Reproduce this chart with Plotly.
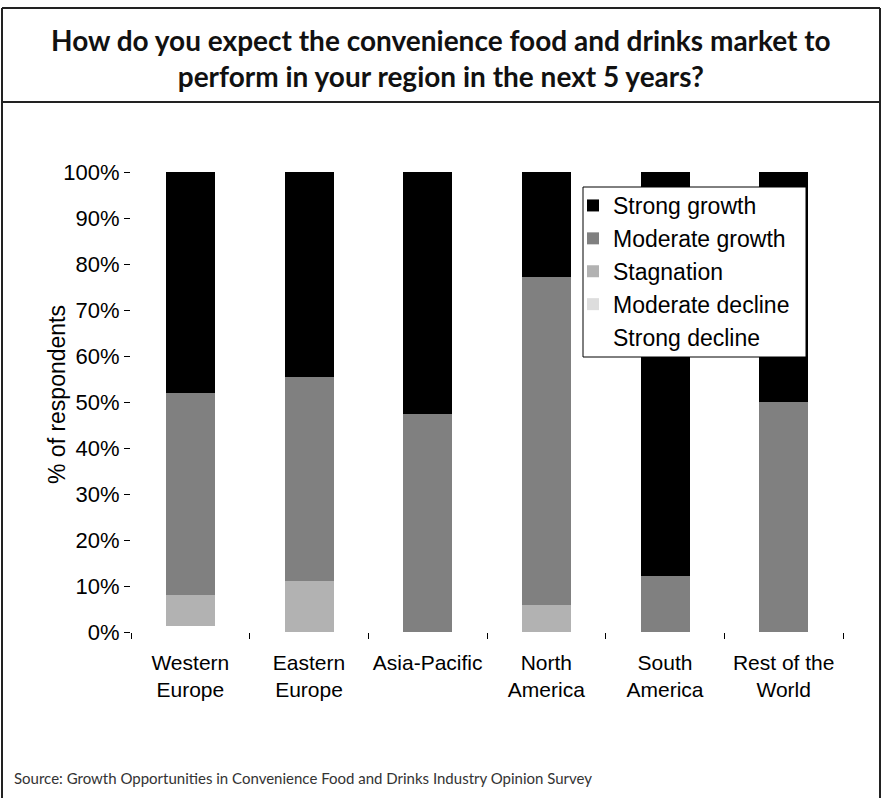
import plotly.graph_objects as go

regions = ["Western<br>Europe", "Eastern<br>Europe", "Asia-Pacific", "North<br>America", "South<br>America", "Rest of the<br>World"]
strong_decline = [1.2, 0, 0, 0, 0, 0]
moderate_decline = [0, 0, 0, 0, 0, 0]
stagnation = [6.9, 11.0, 0, 5.8, 0, 0]
moderate_growth = [43.8, 44.5, 47.5, 71.4, 12.2, 50.0]
strong_growth = [48.1, 44.5, 52.5, 22.8, 87.8, 50.0]
y_ticks = [0, 10, 20, 30, 40, 50, 60, 70, 80, 90, 100]
y_tick_labels = [f"{v}%" for v in y_ticks]

series = [
    ("Strong decline", strong_decline, "#ffffff"),
    ("Moderate decline", moderate_decline, "#dddddd"),
    ("Stagnation", stagnation, "#b2b2b2"),
    ("Moderate growth", moderate_growth, "#808080"),
    ("Strong growth", strong_growth, "#000000"),
]

W, H = 882, 798
L, R, T, B = 131, 843, 172, 632

def px(x):
    return (x - L) / (R - L)

def py(y):
    return (B - y) / (B - T)

fig = go.Figure()
for name, vals, col in series:
    fig.add_trace(go.Bar(x=regions, y=vals, name=name, marker=dict(color=col, line=dict(width=0))))

shapes = []
lc = "#222222"
shapes.append(dict(type="line", xref="paper", yref="paper", x0=px(2), x1=px(2), y0=py(8), y1=py(800), line=dict(color=lc, width=2)))
shapes.append(dict(type="line", xref="paper", yref="paper", x0=px(880), x1=px(880), y0=py(8), y1=py(800), line=dict(color=lc, width=2)))
shapes.append(dict(type="line", xref="paper", yref="paper", x0=px(2), x1=px(880), y0=py(8), y1=py(8), line=dict(color=lc, width=2)))
shapes.append(dict(type="line", xref="paper", yref="paper", x0=px(2), x1=px(880), y0=py(102), y1=py(102), line=dict(color=lc, width=2)))
# legend box
shapes.append(dict(type="rect", xref="paper", yref="paper", x0=px(583), x1=px(806), y0=py(187), y1=py(357),
                   fillcolor="white", line=dict(color="#000000", width=1), layer="above"))

annotations = [
    dict(text="How do you expect the convenience food and drinks market to<br>perform in your region in the next 5 years?",
         xref="paper", yref="paper", x=px(441), y=py(58), xanchor="center", yanchor="middle",
         showarrow=False, font=dict(family="Lato", size=28, color="#111111", weight="bold")),
    dict(text="% of respondents", xref="paper", yref="paper", x=px(57), y=py(395), textangle=-90,
         xanchor="center", yanchor="middle", showarrow=False,
         font=dict(family="Arial, Liberation Sans", size=23, color="#000000")),
    dict(text="Source: Growth Opportunities in Convenience Food and Drinks Industry Opinion Survey",
         xref="paper", yref="paper", x=px(12), y=py(778), xanchor="left", yanchor="middle",
         showarrow=False, font=dict(family="Lato", size=15, color="#333333")),
]

fig.update_layout(
    width=W, height=H,
    margin=dict(l=L, r=W - R, t=T, b=H - B),
    paper_bgcolor="white", plot_bgcolor="white",
    barmode="stack", bargap=0.587,
    font=dict(family="Arial, Liberation Sans", size=20, color="#000000"),
    legend=dict(x=px(573), y=py(184), xanchor="left", yanchor="top",
                traceorder="reversed", bgcolor="rgba(0,0,0,0)", borderwidth=0,
                font=dict(size=23), itemwidth=30, tracegroupgap=0),
    shapes=shapes, annotations=annotations,
)
fig.update_yaxes(range=[0, 100], tickvals=y_ticks, ticktext=y_tick_labels, showgrid=False,
                 zeroline=False, showline=False, ticks="outside", ticklen=6, tickcolor="#000000",
                 tickfont=dict(size=22))
fig.update_xaxes(showgrid=False, zeroline=False, showline=False, ticks="outside", tickson="boundaries",
                 ticklen=6, tickcolor="#000000", tickfont=dict(size=21), tickangle=0, ticklabelstandoff=16)

fig.write_html("out.html", config={"displayModeBar": False},
               post_script="document.body.style.margin='0';")
